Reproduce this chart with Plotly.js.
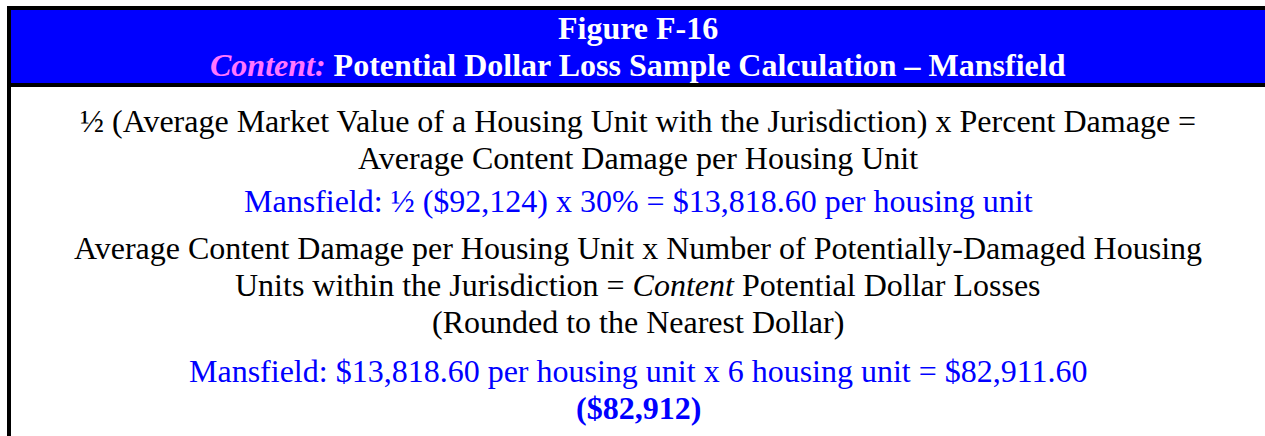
<!DOCTYPE html>
<html>
<head>
<meta charset="utf-8">
<script src="https://cdn.plot.ly/plotly-3.0.1.min.js"></script>
<style>html,body{margin:0;padding:0;background:#fff;}#chart{width:1265px;height:436px;}</style>
</head>
<body>
<div id="chart"></div>
<script>
// Text content of the figure
const figureNumber = "Figure F-16";
const figureLabel = "Content:";
const figureTitle = "Potential Dollar Loss Sample Calculation – Mansfield";

const stepOneFormula = [
  "½ (Average Market Value of a Housing Unit with the Jurisdiction) x Percent Damage =",
  "Average Content Damage per Housing Unit"
];
const stepOneExample = "Mansfield: ½ ($92,124) x 30% = $13,818.60 per housing unit";

const stepTwoFormula = [
  "Average Content Damage per Housing Unit x Number of Potentially-Damaged Housing",
  "Units within the Jurisdiction = <i>Content</i> Potential Dollar Losses",
  "(Rounded to the Nearest Dollar)"
];
const stepTwoExample = "Mansfield: $13,818.60 per housing unit x 6 housing unit = $82,911.60";
const stepTwoResult = "($82,912)";

// Layout / style
const W = 1265, H = 436;
const FONT = "Liberation Serif, Times New Roman, serif";
const BODY = 32, HEAD = 32;
const CX = 638;

const ann = [];
function add(text, y, size, color, bold) {
  ann.push({
    x: CX, y: y, xref: 'x', yref: 'y', text: bold ? '<b>' + text + '</b>' : text,
    showarrow: false, xanchor: 'center', yanchor: 'middle',
    font: {family: FONT, size: size, color: color}
  });
}

add(figureNumber, 28, HEAD, '#ffffff', true);
add('<i><span style="color:#ff77ff">' + figureLabel + '</span></i> ' + figureTitle, 65, HEAD, '#ffffff', true);

const blackYs = [121, 158];
stepOneFormula.forEach((t, i) => add(t, blackYs[i], BODY, '#000000', false));
add(stepOneExample, 201, BODY, '#0000ff', false);
const black2Ys = [248, 285, 322];
stepTwoFormula.forEach((t, i) => add(t, black2Ys[i], BODY, '#000000', false));
add(stepTwoExample, 371, BODY, '#0000ff', false);
add(stepTwoResult, 408, BODY, '#0000ff', true);

const shapes = [
  {type: 'rect', xref: 'x', yref: 'y', x0: 11, x1: 1266, y0: 10, y1: 83, fillcolor: '#0000ff', line: {width: 0}, layer: 'below'},
  {type: 'rect', xref: 'x', yref: 'y', x0: 7, x1: 1266, y0: 6, y1: 10, fillcolor: '#000000', line: {width: 0}, layer: 'below'},
  {type: 'rect', xref: 'x', yref: 'y', x0: 7, x1: 1266, y0: 83, y1: 87, fillcolor: '#000000', line: {width: 0}, layer: 'below'},
  {type: 'rect', xref: 'x', yref: 'y', x0: 7, x1: 11, y0: 6, y1: 437, fillcolor: '#000000', line: {width: 0}, layer: 'below'}
];

const layout = {
  width: W, height: H,
  margin: {l: 0, r: 0, t: 0, b: 0, pad: 0},
  paper_bgcolor: '#ffffff', plot_bgcolor: '#ffffff',
  xaxis: {range: [0, W], visible: false, fixedrange: true},
  yaxis: {range: [H, 0], visible: false, fixedrange: true},
  showlegend: false,
  annotations: ann,
  shapes: shapes
};

Plotly.newPlot('chart', [], layout, {staticPlot: true, displayModeBar: false});
</script>
</body>
</html>
